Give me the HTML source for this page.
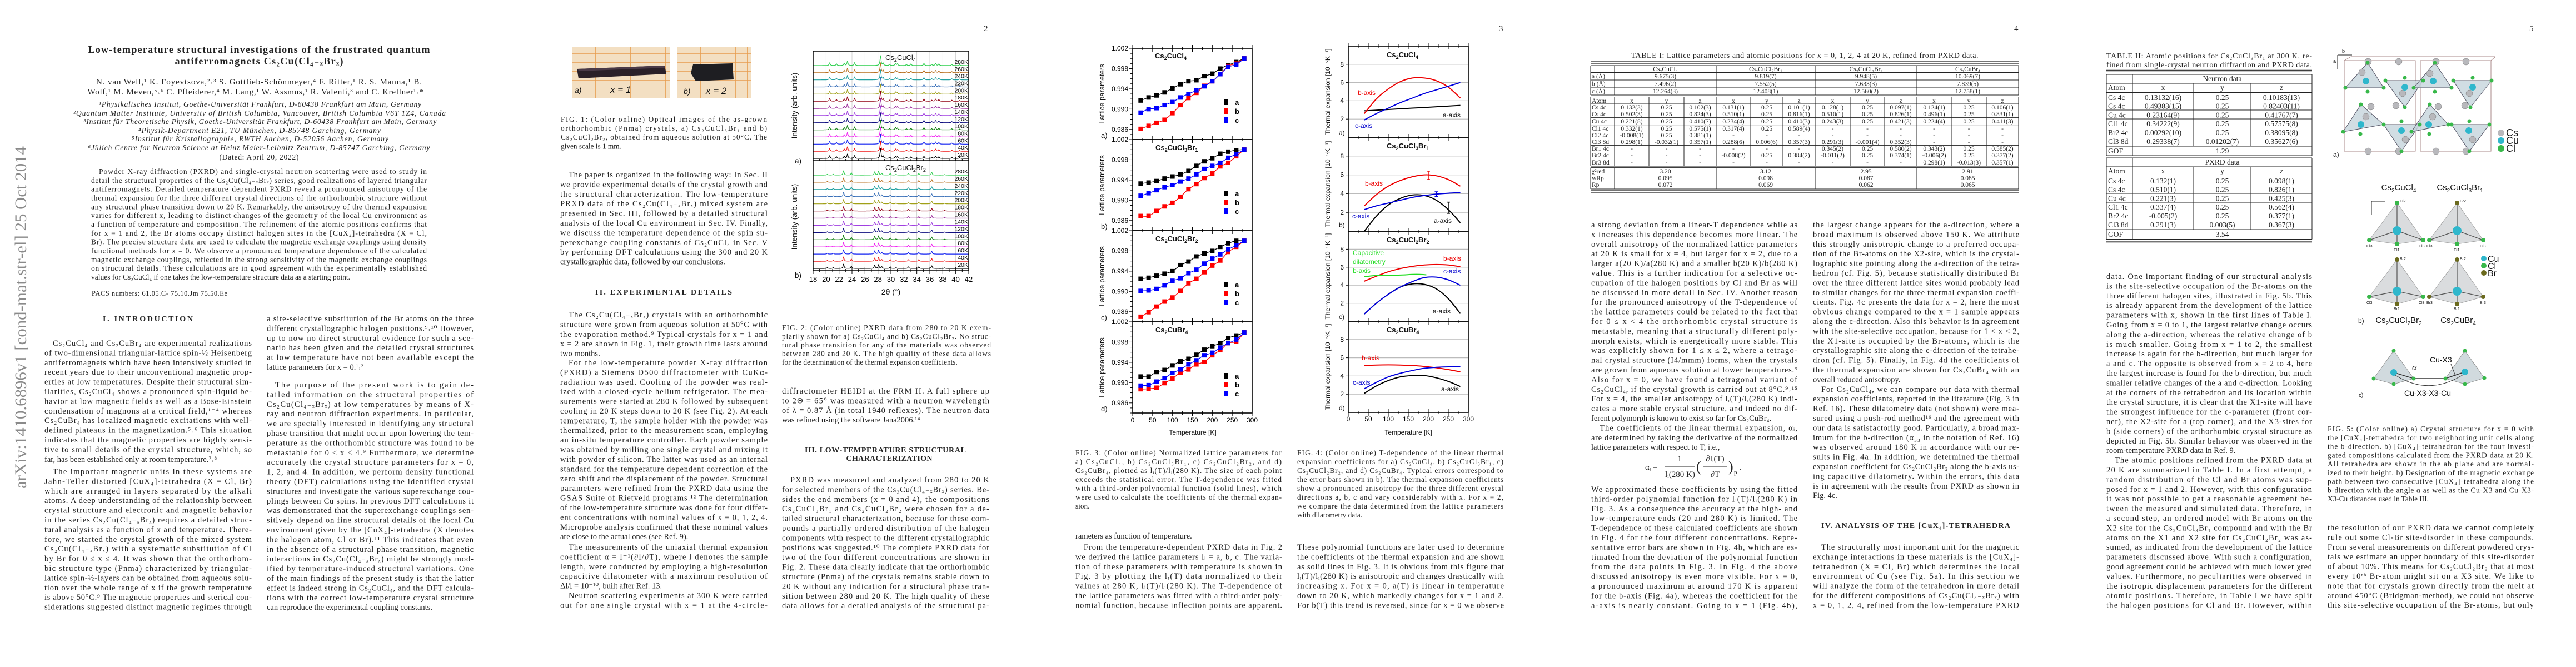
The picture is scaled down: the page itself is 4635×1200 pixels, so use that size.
<!DOCTYPE html>
<html><head><meta charset="utf-8"><title>Low-temperature structural investigations of Cs2Cu(Cl4-xBrx)</title>
<style>
html,body{margin:0;padding:0;background:#fff;}
body{width:4635px;height:1200px;overflow:hidden;position:relative;}
svg{position:absolute;left:0;top:0;}
.serif{font-family:"Liberation Serif","DejaVu Serif",serif;fill:#222;}
.sans{font-family:"Liberation Sans","DejaVu Sans",sans-serif;fill:#111;}
.col text{white-space:pre;}
</style></head>
<body>
<svg id="doc" width="4635" height="1200" viewBox="0 0 4635 1200">
<defs>
<pattern id="mm" width="21" height="16" patternUnits="userSpaceOnUse"><rect width="21" height="16" fill="#f3dfc2"/><path d="M0 0H21M0 0V16" stroke="#e79c4e" stroke-width="1.6"/></pattern>
</defs>

<!-- arXiv sidebar -->
<text class="serif" transform="translate(47,879) rotate(-90)" font-size="30" fill="#8a8a8a" style="fill:#8a8a8a" textLength="616" lengthAdjust="spacingAndGlyphs">arXiv:1410.6896v1  [cond-mat.str-el]  25 Oct 2014</text>

<!-- page numbers -->
<g class="serif" font-size="15">
<text x="1770" y="56">2</text><text x="2697" y="56">3</text><text x="3624" y="56">4</text><text x="4551" y="56">5</text>
</g>

<!-- ================= PAGE 1 ================= -->
<g class="serif" font-weight="bold" font-size="18" text-anchor="middle">
<text x="466" y="95" textLength="615">Low-temperature structural investigations of the frustrated quantum</text>
<text x="466" y="116" textLength="303">antiferromagnets Cs₂Cu(Cl₄₋ₓBrₓ)</text>
</g>
<g class="serif" font-size="15" text-anchor="middle">
<text x="466" y="152" textLength="586">N. van Well,¹ K. Foyevtsova,²˒³ S. Gottlieb-Schönmeyer,⁴ F. Ritter,¹ R. S. Manna,¹ B.</text>
<text x="460" y="170" textLength="605">Wolf,¹ M. Meven,⁵˒⁶ C. Pfleiderer,⁴ M. Lang,¹ W. Assmus,¹ R. Valentí,³ and C. Krellner¹˒*</text>
</g>
<g class="serif" font-size="13.5" font-style="italic" text-anchor="middle">
<text x="468" y="192" textLength="580">¹Physikalisches Institut, Goethe-Universität Frankfurt, D-60438 Frankfurt am Main, Germany</text>
<text x="467" y="208" textLength="670">²Quantum Matter Institute, University of British Columbia, Vancouver, British Columbia V6T 1Z4, Canada</text>
<text x="468" y="223" textLength="635">³Institut für Theoretische Physik, Goethe-Universität Frankfurt, D-60438 Frankfurt am Main, Germany</text>
<text x="467" y="239" textLength="436">⁴Physik-Department E21, TU München, D-85748 Garching, Germany</text>
<text x="468" y="254" textLength="462">⁵Institut für Kristallographie, RWTH Aachen, D-52056 Aachen, Germany</text>
<text x="466" y="270" textLength="615">⁶Jülich Centre for Neutron Science at Heinz Maier-Leibnitz Zentrum, D-85747 Garching, Germany</text>
<text x="466" y="287" font-style="normal" textLength="143">(Dated: April 20, 2022)</text>
</g>

<g class="serif col" data-x="164" data-w="604" data-y="308" data-lh="15.83" data-ind="14" font-size="13.5">
<text class="i">Powder X-ray diffraction (PXRD) and single-crystal neutron scattering were used to study in</text>
<text>detail the structural properties of the Cs₂Cu(Cl₄₋ₓBrₓ) series, good realizations of layered triangular</text>
<text>antiferromagnets. Detailed temperature-dependent PXRD reveal a pronounced anisotropy of the</text>
<text>thermal expansion for the three different crystal directions of the orthorhombic structure without</text>
<text>any structural phase transition down to 20 K. Remarkably, the anisotropy of the thermal expansion</text>
<text>varies for different x, leading to distinct changes of the geometry of the local Cu environment as</text>
<text>a function of temperature and composition. The refinement of the atomic positions confirms that</text>
<text>for x = 1 and 2, the Br atoms occupy distinct halogen sites in the [CuX₄]-tetrahedra (X = Cl,</text>
<text>Br). The precise structure data are used to calculate the magnetic exchange couplings using density</text>
<text>functional methods for x = 0. We observe a pronounced temperature dependence of the calculated</text>
<text>magnetic exchange couplings, reflected in the strong sensitivity of the magnetic exchange couplings</text>
<text>on structural details. These calculations are in good agreement with the experimentally established</text>
<text class="l">values for Cs₂CuCl₄ if one takes the low-temperature structure data as a starting point.</text>
</g>
<text class="serif" x="165" y="532" font-size="12.5" textLength="244">PACS numbers: 61.05.C- 75.10.Jm 75.50.Ee</text>
<text class="serif" x="266" y="578" font-size="14" font-weight="bold" text-anchor="middle" textLength="162">I.   INTRODUCTION</text>

<g class="serif col" data-x="80" data-w="373" data-y="617" font-size="14.5">
<text class="i">Cs₂CuCl₄ and Cs₂CuBr₄ are experimental realizations</text>
<text>of two-dimensional triangular-lattice spin-½ Heisenberg</text>
<text>antiferromagnets which have been intensively studied in</text>
<text>recent years due to their unconventional magnetic prop-</text>
<text>erties at low temperatures. Despite their structural sim-</text>
<text>ilarities, Cs₂CuCl₄ shows a pronounced spin-liquid be-</text>
<text>havior at low magnetic fields as well as a Bose-Einstein</text>
<text>condensation of magnons at a critical field,¹⁻⁴ whereas</text>
<text>Cs₂CuBr₄ has localized magnetic excitations with well-</text>
<text>defined plateaus in the magnetization.⁵˒⁶ This situation</text>
<text>indicates that the magnetic properties are highly sensi-</text>
<text>tive to small details of the crystal structure, which, so</text>
<text class="l">far, has been established only at room temperature.⁷˒⁸</text>
</g>
<g class="serif col" data-x="80" data-w="373" data-y="848" font-size="14.5">
<text class="i">The important magnetic units in these systems are</text>
<text>Jahn-Teller distorted [CuX₄]-tetrahedra (X = Cl, Br)</text>
<text>which are arranged in layers separated by the alkali</text>
<text>atoms. A deep understanding of the relationship between</text>
<text>crystal structure and electronic and magnetic behavior</text>
<text>in the series Cs₂Cu(Cl₄₋ₓBrₓ) requires a detailed struc-</text>
<text>tural analysis as a function of x and temperature. There-</text>
<text>fore, we started the crystal growth of the mixed system</text>
<text>Cs₂Cu(Cl₄₋ₓBrₓ) with a systematic substitution of Cl</text>
<text>by Br for 0 ≤ x ≤ 4. It was shown that the orthorhom-</text>
<text>bic structure type (Pnma) characterized by triangular-</text>
<text>lattice spin-½-layers can be obtained from aqueous solu-</text>
<text>tion over the whole range of x if the growth temperature</text>
<text>is above 50°C.⁹ The magnetic properties and sterical con-</text>
<text>siderations suggested distinct magnetic regimes through</text>
</g>
<g class="serif col" data-x="480" data-w="372" data-y="573" font-size="14.5">
<text>a site-selective substitution of the Br atoms on the three</text>
<text>different crystallographic halogen positions.⁹˒¹⁰ However,</text>
<text>up to now no direct structural evidence for such a sce-</text>
<text>nario has been given and the detailed crystal structures</text>
<text>at low temperature have not been available except the</text>
<text class="l">lattice parameters for x = 0.¹˒²</text>
</g>
<g class="serif col" data-x="480" data-w="372" data-y="692" font-size="14.5">
<text class="i">The purpose of the present work is to gain de-</text>
<text>tailed information on the structural properties of</text>
<text>Cs₂Cu(Cl₄₋ₓBrₓ) at low temperatures by means of X-</text>
<text>ray and neutron diffraction experiments. In particular,</text>
<text>we are specially interested in identifying any structural</text>
<text>phase transition that might occur upon lowering the tem-</text>
<text>perature as the orthorhombic structure was found to be</text>
<text>metastable for 0 ≤ x &lt; 4.⁹ Furthermore, we determine</text>
<text>accurately the crystal structure parameters for x = 0,</text>
<text>1, 2, and 4. In addition, we perform density functional</text>
<text>theory (DFT) calculations using the identified crystal</text>
<text>structures and investigate the various superexchange cou-</text>
<text>plings between Cu spins. In previous DFT calculations it</text>
<text>was demonstrated that the superexchange couplings sen-</text>
<text>sitively depend on fine structural details of the local Cu</text>
<text>environment given by the [CuX₄]-tetrahedra (X denotes</text>
<text>the halogen atom, Cl or Br).¹¹ This indicates that even</text>
<text>in the absence of a structural phase transition, magnetic</text>
<text>interactions in Cs₂Cu(Cl₄₋ₓBrₓ) might be strongly mod-</text>
<text>ified by temperature-induced structural variations. One</text>
<text>of the main findings of the present study is that the latter</text>
<text>effect is indeed strong in Cs₂CuCl₄, and the DFT calcula-</text>
<text>tions with the correct low-temperature crystal structure</text>
<text class="l">can reproduce the experimental coupling constants.</text>
</g>

<!-- ================= PAGE 2 ================= -->
<g>
<rect x="1029" y="84" width="176" height="93" fill="url(#mm)"/>
<polygon points="1038,124 1196,118 1199,133 1041,141" fill="#2a2028"/>
<polygon points="1040,124 1196,118 1197,122 1041,128" fill="#4a3a48"/>
<text class="sans" x="1034" y="167" font-size="14" font-style="italic">a)</text>
<text class="sans" x="1098" y="167" font-size="17" font-style="italic">x = 1</text>
<rect x="1219" y="84" width="133" height="93" fill="url(#mm)"/>
<polygon points="1247,116 1318,114 1320,143 1252,146 1243,132" fill="#1e1e22"/>
<text class="sans" x="1230" y="169" font-size="14" font-style="italic">b)</text>
<text class="sans" x="1270" y="169" font-size="17" font-style="italic">x = 2</text>
</g>
<g class="serif col" data-x="1009" data-w="371" data-y="214" data-lh="16.1" font-size="13.3">
<text>FIG. 1: (Color online) Optical images of the as-grown</text>
<text>orthorhombic (Pnma) crystals, a) Cs₂CuCl₃Br₁ and b)</text>
<text>Cs₂CuCl₂Br₂, obtained from aqueous solution at 50°C. The</text>
<text class="l">given scale is 1 mm.</text>
</g>
<g class="serif col" data-x="1008" data-w="373" data-y="314" font-size="14.5">
<text class="i">The paper is organized in the following way: In Sec. II</text>
<text>we provide experimental details of the crystal growth and</text>
<text>the structural characterization. The low-temperature</text>
<text>PRXD data of the Cs₂Cu(Cl₄₋ₓBrₓ) mixed system are</text>
<text>presented in Sec. III, followed by a detailed structural</text>
<text>analysis of the local Cu environment in Sec. IV. Finally,</text>
<text>we discuss the temperature dependence of the spin su-</text>
<text>perexchange coupling constants of Cs₂CuCl₄ in Sec. V</text>
<text>by performing DFT calculations using the 300 and 20 K</text>
<text class="l">crystallographic data, followed by our conclusions.</text>
</g>
<text class="serif" x="1194" y="530" font-size="14" font-weight="bold" text-anchor="middle" textLength="246">II.   EXPERIMENTAL DETAILS</text>
<g class="serif col" data-x="1008" data-w="373" data-y="566" font-size="14.5">
<text class="i">The Cs₂Cu(Cl₄₋ₓBrₓ) crystals with an orthorhombic</text>
<text>structure were grown from aqueous solution at 50°C with</text>
<text>the evaporation method.⁹ Typical crystals for x = 1 and</text>
<text>x = 2 are shown in Fig. 1, their growth time lasts around</text>
<text class="l">two months.</text>
</g>
<g class="serif col" data-x="1008" data-w="373" data-y="652" font-size="14.5">
<text class="i">For the low-temperature powder X-ray diffraction</text>
<text>(PXRD) a Siemens D500 diffractometer with CuKα-</text>
<text>radiation was used. Cooling of the powder was real-</text>
<text>ized with a closed-cycle helium refrigerator. The mea-</text>
<text>surements were started at 280 K followed by subsequent</text>
<text>cooling in 20 K steps down to 20 K (see Fig. 2). At each</text>
<text>temperature, T, the sample holder with the powder was</text>
<text>thermalized, prior to the measurement scan, employing</text>
<text>an in-situ temperature controller. Each powder sample</text>
<text>was obtained by milling one single crystal and mixing it</text>
<text>with powder of silicon. The latter was used as an internal</text>
<text>standard for the temperature dependent correction of the</text>
<text>zero shift and the displacement of the powder. Structural</text>
<text>parameters were refined from the PXRD data using the</text>
<text>GSAS Suite of Rietveld programs.¹² The determination</text>
<text>of the low-temperature structure was done for four differ-</text>
<text>ent concentrations with nominal values of x = 0, 1, 2, 4.</text>
<text>Microprobe analysis confirmed that these nominal values</text>
<text class="l">are close to the actual ones (see Ref. 9).</text>
</g>
<g class="serif col" data-x="1008" data-w="373" data-y="984" font-size="14.5">
<text class="i">The measurements of the uniaxial thermal expansion</text>
<text>coefficient α = l⁻¹(∂l/∂T), where l denotes the sample</text>
<text>length, were conducted by employing a high-resolution</text>
<text>capacitive dilatometer with a maximum resolution of</text>
<text class="l">Δl/l = 10⁻¹⁰, built after Ref. 13.</text>
</g>
<g class="serif col" data-x="1008" data-w="373" data-y="1071" font-size="14.5">
<text class="i">Neutron scattering experiments at 300 K were carried</text>
<text>out for one single crystal with x = 1 at the 4-circle-</text>
</g>

<!-- Fig 2 labels -->
<g class="sans">
<text x="1434" y="190" font-size="13.5" text-anchor="middle" transform="rotate(-90 1434 190)">Intensity (arb. units)</text>
<text x="1434" y="390" font-size="13.5" text-anchor="middle" transform="rotate(-90 1434 390)">Intensity (arb. units)</text>
<text x="1430" y="294" font-size="13.5">a)</text>
<text x="1430" y="500" font-size="13.5">b)</text>
<text x="1593" y="108" font-size="13">Cs<tspan font-size="9" dy="3">2</tspan><tspan dy="-3">CuCl</tspan><tspan font-size="9" dy="3">4</tspan></text>
<text x="1593" y="306" font-size="13">Cs<tspan font-size="9" dy="3">2</tspan><tspan dy="-3">CuCl</tspan><tspan font-size="9" dy="3">2</tspan><tspan dy="-3">Br</tspan><tspan font-size="9" dy="3">2</tspan></text>
<text x="1603" y="530" font-size="14" text-anchor="middle">2θ (°)</text>
</g>
<g id="fig2"></g>

<g class="serif col" data-x="1407" data-w="376" data-y="589" data-lh="15.5" font-size="13.3">
<text>FIG. 2: (Color online) PXRD data from 280 to 20 K exem-</text>
<text>plarily shown for a) Cs₂CuCl₄ and b) Cs₂CuCl₂Br₂. No struc-</text>
<text>tural phase transition for any of the materials was observed</text>
<text>between 280 and 20 K. The high quality of these data allows</text>
<text class="l">for the determination of the thermal expansion coefficients.</text>
</g>
<g class="serif col" data-x="1407" data-w="373" data-y="703" font-size="14.5">
<text>diffractometer HEIDI at the FRM II. A full sphere up</text>
<text>to 2Θ = 65° was measured with a neutron wavelength</text>
<text>of λ = 0.87 Å (in total 1940 reflexes). The neutron data</text>
<text class="l">was refined using the software Jana2006.¹⁴</text>
</g>
<g class="serif" font-size="14" font-weight="bold" text-anchor="middle">
<text x="1593" y="814" textLength="290">III.   LOW-TEMPERATURE STRUCTURAL</text>
<text x="1600" y="829" textLength="155">CHARACTERIZATION</text>
</g>
<g class="serif col" data-x="1407" data-w="373" data-y="863" font-size="14.5">
<text class="i">PXRD was measured and analyzed from 280 to 20 K</text>
<text>for selected members of the Cs₂Cu(Cl₄₋ₓBrₓ) series. Be-</text>
<text>sides the end members (x = 0 and 4), the compositions</text>
<text>Cs₂CuCl₃Br₁ and Cs₂CuCl₂Br₂ were chosen for a de-</text>
<text>tailed structural characterization, because for these com-</text>
<text>pounds a partially ordered distribution of the halogen</text>
<text>components with respect to the different crystallographic</text>
<text>positions was suggested.¹⁰ The complete PXRD data for</text>
<text>two of the four different concentrations are shown in</text>
<text>Fig. 2. These data clearly indicate that the orthorhombic</text>
<text>structure (Pnma) of the crystals remains stable down to</text>
<text>20 K without any indication for a structural phase tran-</text>
<text>sition between 280 and 20 K. The high quality of these</text>
<text>data allows for a detailed analysis of the structural pa-</text>
</g>

<!-- ================= PAGE 3 ================= -->
<g id="fig3"></g>
<g id="fig4"></g>

<g class="serif col" data-x="1935" data-w="371" data-y="814" data-lh="16" font-size="13.3">
<text>FIG. 3: (Color online) Normalized lattice parameters for</text>
<text>a) Cs₂CuCl₄, b) Cs₂CuCl₃Br₁, c) Cs₂CuCl₂Br₂, and d)</text>
<text>Cs₂CuBr₄, plotted as lᵢ(T)/lᵢ(280 K). The size of each point</text>
<text>exceeds the statistical error. The T-dependence was fitted</text>
<text>with a third-order polynomial function (solid lines), which</text>
<text>were used to calculate the coefficients of the thermal expan-</text>
<text class="l">sion.</text>
</g>
<g class="serif col" data-x="2334" data-w="371" data-y="814" data-lh="16" font-size="13.3">
<text>FIG. 4: (Color online) T-dependence of the linear thermal</text>
<text>expansion coefficients for a) Cs₂CuCl₄, b) Cs₂CuCl₃Br₁, c)</text>
<text>Cs₂CuCl₂Br₂, and d) Cs₂CuBr₄. Typical errors correspond to</text>
<text>the error bars shown in b). The thermal expansion coefficients</text>
<text>show a pronounced anisotropy for the three different crystal</text>
<text>directions a, b, c and vary considerably with x. For x = 2,</text>
<text>we compare the data determined from the lattice parameters</text>
<text class="l">with dilatometry data.</text>
</g>
<g class="serif col" data-x="1935" data-w="371" data-y="964" font-size="14.5">
<text class="l">rameters as function of temperature.</text>
</g>
<g class="serif col" data-x="1935" data-w="372" data-y="984" font-size="14.5">
<text class="i">From the temperature-dependent PXRD data in Fig. 2</text>
<text>we derived the lattice parameters lᵢ = a, b, c. The varia-</text>
<text>tion of these parameters with temperature is shown in</text>
<text>Fig. 3 by plotting the lᵢ(T) data normalized to their</text>
<text>values at 280 K, lᵢ(T)/lᵢ(280 K). The T-dependence of</text>
<text>the lattice parameters was fitted with a third-order poly-</text>
<text>nomial function, because inflection points are apparent.</text>
</g>
<g class="serif col" data-x="2334" data-w="372" data-y="984" font-size="14.5">
<text>These polynomial functions are later used to determine</text>
<text>the coefficients of the thermal expansion and are shown</text>
<text>as solid lines in Fig. 3. It is obvious from this figure that</text>
<text>lᵢ(T)/lᵢ(280 K) is anisotropic and changes drastically with</text>
<text>increasing x. For x = 0, a(T) is linear in temperature</text>
<text>down to 20 K, which markedly changes for x = 1 and 2.</text>
<text>For b(T) this trend is reversed, since for x = 0 we observe</text>
</g>

<!-- ================= PAGE 4 ================= -->
<text class="serif" x="3247" y="104" font-size="14" text-anchor="middle" textLength="625">TABLE I: Lattice parameters and atomic positions for x = 0, 1, 2, 4 at 20 K, refined from PXRD data.</text>
<g id="table1" class="serif" font-size="11.5"></g>

<g class="serif col" data-x="2863" data-w="371" data-y="404" font-size="14.5">
<text>a strong deviation from a linear-T dependence while as</text>
<text>x increases this dependence becomes more linear. The</text>
<text>overall anisotropy of the normalized lattice parameters</text>
<text>at 20 K is small for x = 4, but larger for x = 2, due to a</text>
<text>larger a(20 K)/a(280 K) and a smaller b(20 K)/b(280 K)</text>
<text>value. This is a further indication for a selective oc-</text>
<text>cupation of the halogen positions by Cl and Br as will</text>
<text>be discussed in more detail in Sec. IV. Another reason</text>
<text>for the pronounced anisotropy of the T-dependence of</text>
<text>the lattice parameters could be related to the fact that</text>
<text>for 0 ≤ x &lt; 4 the orthorhombic crystal structure is</text>
<text>metastable, meaning that a structurally different poly-</text>
<text>morph exists, which is energetically more stable. This</text>
<text>was explicitly shown for 1 ≤ x ≤ 2, where a tetrago-</text>
<text>nal crystal structure (I4/mmm) forms, when the crystals</text>
<text>are grown from aqueous solution at lower temperatures.⁹</text>
<text>Also for x = 0, we have found a tetragonal variant of</text>
<text>Cs₂CuCl₄, if the crystal growth is carried out at 8°C.⁹˒¹⁵</text>
<text>For x = 4, the smaller anisotropy of lᵢ(T)/lᵢ(280 K) indi-</text>
<text>cates a more stable crystal structure, and indeed no dif-</text>
<text class="l">ferent polymorph is known to exist so far for Cs₂CuBr₄.</text>
<text class="i">The coefficients of the linear thermal expansion, αᵢ,</text>
<text>are determined by taking the derivative of the normalized</text>
<text class="l">lattice parameters with respect to T, i.e.,</text>
</g>
<g class="serif" font-size="15">
<text x="2960" y="845">αᵢ =</text>
<text x="3022" y="830" text-anchor="middle">1</text>
<line x1="2996" y1="839" x2="3050" y2="839" stroke="#222" stroke-width="1"/>
<text x="3023" y="858" text-anchor="middle">lᵢ(280 K)</text>
<text x="3052" y="848" font-size="26">(</text>
<text x="3086" y="830" text-anchor="middle">∂lᵢ(T)</text>
<line x1="3064" y1="839" x2="3108" y2="839" stroke="#222" stroke-width="1"/>
<text x="3086" y="858" text-anchor="middle">∂T</text>
<text x="3110" y="848" font-size="26">)</text>
<text x="3120" y="853" font-size="11">p</text>
<text x="3130" y="845">.</text>
</g>
<g class="serif col" data-x="2863" data-w="371" data-y="880" font-size="14.5">
<text>We approximated these coefficients by using the fitted</text>
<text>third-order polynomial function for lᵢ(T)/lᵢ(280 K) in</text>
<text>Fig. 3. As a consequence the accuracy at the high- and</text>
<text>low-temperature ends (20 and 280 K) is limited. The</text>
<text>T-dependence of these calculated coefficients are shown</text>
<text>in Fig. 4 for the four different concentrations. Repre-</text>
<text>sentative error bars are shown in Fig. 4b, which are es-</text>
<text>timated from the deviation of the polynomial function</text>
<text>from the data points in Fig. 3. In Fig. 4 the above</text>
<text>discussed anisotropy is even more visible. For x = 0,</text>
<text>a pronounced maximum at around 170 K is apparent</text>
<text>for the b-axis (Fig. 4a), whereas the coefficient for the</text>
<text>a-axis is nearly constant. Going to x = 1 (Fig. 4b),</text>
</g>
<g class="serif col" data-x="3262" data-w="371" data-y="404" font-size="14.5">
<text>the largest change appears for the a-direction, where a</text>
<text>broad maximum is observed above 150 K. We attribute</text>
<text>this strongly anisotropic change to a preferred occupa-</text>
<text>tion of the Br-atoms on the X2-site, which is the crystal-</text>
<text>lographic site pointing along the a-direction of the tetra-</text>
<text>hedron (cf. Fig. 5), because statistically distributed Br</text>
<text>over the three different lattice sites would probably lead</text>
<text>to similar changes for the three thermal expansion coeffi-</text>
<text>cients. Fig. 4c presents the data for x = 2, here the most</text>
<text>obvious change compared to the x = 1 sample appears</text>
<text>along the c-direction. Also this behavior is in agreement</text>
<text>with the site-selective occupation, because for 1 &lt; x &lt; 2,</text>
<text>the X1-site is occupied by the Br-atoms, which is the</text>
<text>crystallographic site along the c-direction of the tetrahe-</text>
<text>dron (cf. Fig. 5). Finally, in Fig. 4d the coefficients of</text>
<text>the thermal expansion are shown for Cs₂CuBr₄ with an</text>
<text class="l">overall reduced anisotropy.</text>
<text class="i">For Cs₂CuCl₄, we can compare our data with thermal</text>
<text>expansion coefficients, reported in the literature (Fig. 3 in</text>
<text>Ref. 16). These dilatometry data (not shown) were mea-</text>
<text>sured using a push-rod method¹⁶ and the agreement with</text>
<text>our data is satisfactorily good. Particularly, a broad max-</text>
<text>imum for the b-direction (α₃₃ in the notation of Ref. 16)</text>
<text>was observed around 180 K in accordance with our re-</text>
<text>sults in Fig. 4a. In addition, we determined the thermal</text>
<text>expansion coefficient for Cs₂CuCl₂Br₂ along the b-axis us-</text>
<text>ing capacitive dilatometry. Within the errors, this data</text>
<text>is in agreement with the results from PXRD as shown in</text>
<text class="l">Fig. 4c.</text>
</g>
<text class="serif" x="3447" y="950" font-size="14" font-weight="bold" text-anchor="middle" textLength="340">IV.   ANALYSIS OF THE [CuX₄]-TETRAHEDRA</text>
<g class="serif col" data-x="3262" data-w="371" data-y="984" font-size="14.5">
<text class="i">The structurally most important unit for the magnetic</text>
<text>exchange interactions in these materials is the [CuX₄]-</text>
<text>tetrahedron (X = Cl, Br) which determines the local</text>
<text>environment of Cu (see Fig. 5a). In this section we</text>
<text>will analyze the form of the tetrahedron in more detail</text>
<text>for the different compositions of Cs₂Cu(Cl₄₋ₓBrₓ) with</text>
<text>x = 0, 1, 2, 4, refined from the low-temperature PXRD</text>
</g>

<!-- ================= PAGE 5 ================= -->
<g class="serif col" data-x="3790" data-w="370" data-y="100" data-lh="16" font-size="14">
<text>TABLE II: Atomic positions for Cs₂CuCl₃Br₁ at 300 K, re-</text>
<text>fined from single-crystal neutron diffraction and PXRD data.</text>
</g>
<g id="table2" class="serif" font-size="13.5"></g>

<g class="serif col" data-x="3790" data-w="370" data-y="497" font-size="14.5">
<text>data. One important finding of our structural analysis</text>
<text>is the site-selective occupation of the Br-atoms on the</text>
<text>three different halogen sites, illustrated in Fig. 5b. This</text>
<text>is already apparent from the development of the lattice</text>
<text>parameters with x, shown in the first lines of Table I.</text>
<text>Going from x = 0 to 1, the largest relative change occurs</text>
<text>along the a-direction, whereas the relative change of b</text>
<text>is much smaller. Going from x = 1 to 2, the smallest</text>
<text>increase is again for the b-direction, but much larger for</text>
<text>a and c. The opposite is observed from x = 2 to 4, here</text>
<text>the largest increase is found for the b-direction, but much</text>
<text>smaller relative changes of the a and c-direction. Looking</text>
<text>at the corners of the tetrahedron and its location within</text>
<text>the crystal structure, it is clear that the X1-site will have</text>
<text>the strongest influence for the c-parameter (front cor-</text>
<text>ner), the X2-site for a (top corner), and the X3-sites for</text>
<text>b (side corners) of the orthorhombic crystal structure as</text>
<text>depicted in Fig. 5b. Similar behavior was observed in the</text>
<text class="l">room-temperature PXRD data in Ref. 9.</text>
<text class="i">The atomic positions refined from the PXRD data at</text>
<text>20 K are summarized in Table I. In a first attempt, a</text>
<text>random distribution of the Cl and Br atoms was sup-</text>
<text>posed for x = 1 and 2. However, with this configuration</text>
<text>it was not possible to get a reasonable agreement be-</text>
<text>tween the measured and simulated data. Therefore, in</text>
<text>a second step, an ordered model with Br atoms on the</text>
<text>X2 site for the Cs₂CuCl₃Br₁ compound and with the Br</text>
<text>atoms on the X1 and X2 site for Cs₂CuCl₂Br₂ was as-</text>
<text>sumed, as indicated from the development of the lattice</text>
<text>parameters discussed above. With such a configuration,</text>
<text>good agreement could be achieved with much lower χred</text>
<text>values. Furthermore, no peculiarities were observed in</text>
<text>the isotropic displacement parameters for the different</text>
<text>atomic positions. Therefore, in Table I we have split</text>
<text>the halogen positions for Cl and Br. However, within</text>
</g>

<!-- Fig 5 drawings -->
<g>
<g fill="none" stroke="#a88" stroke-width="1">
<rect x="4218" y="109" width="128" height="163"/><rect x="4355" y="109" width="127" height="163"/>
<line x1="4218" y1="109" x2="4230" y2="102"/><line x1="4482" y1="109" x2="4490" y2="102"/><line x1="4230" y1="102" x2="4490" y2="102"/>
</g>
<g fill="#c5d4dc" fill-opacity="0.8" stroke="#556" stroke-width="1">
<polygon points="4260,113 4220,158 4289,158"/><polygon points="4292,145 4360,145 4327,193"/>
<polygon points="4381,113 4343,158 4411,158"/><polygon points="4414,145 4483,145 4445,193"/>
<polygon points="4248,188 4216,237 4289,224"/><polygon points="4289,224 4354,224 4321,272"/>
<polygon points="4372,188 4339,237 4405,224"/><polygon points="4411,224 4479,224 4443,272"/>
</g>
<g fill="#b8b8bc" stroke="#777" stroke-width="0.5">
<circle cx="4261" cy="111" r="6"/><circle cx="4316" cy="111" r="6"/><circle cx="4383" cy="111" r="6"/><circle cx="4437" cy="111" r="6"/>
<circle cx="4261" cy="272" r="6"/><circle cx="4316" cy="272" r="6"/><circle cx="4383" cy="272" r="6"/><circle cx="4437" cy="272" r="6"/>
<circle cx="4250" cy="130" r="6"/><circle cx="4323" cy="168" r="6"/><circle cx="4372" cy="132" r="6"/><circle cx="4443" cy="168" r="6"/>
<circle cx="4266" cy="192" r="6"/><circle cx="4311" cy="190" r="6"/><circle cx="4387" cy="192" r="6"/><circle cx="4435" cy="190" r="6"/>
<circle cx="4257" cy="210" r="6"/><circle cx="4328" cy="251" r="6"/><circle cx="4377" cy="210" r="6"/><circle cx="4449" cy="251" r="6"/>
</g>
<g fill="#2fb7cc">
<circle cx="4257" cy="146" r="6"/><circle cx="4327" cy="157" r="6"/><circle cx="4378" cy="146" r="6"/><circle cx="4449" cy="157" r="6"/>
<circle cx="4248" cy="224" r="6"/><circle cx="4321" cy="235" r="6"/><circle cx="4370" cy="224" r="6"/><circle cx="4442" cy="235" r="6"/>
</g>
<g fill="#38b84a">
<circle cx="4260" cy="113" r="3.5"/><circle cx="4220" cy="158" r="3.5"/><circle cx="4289" cy="158" r="3.5"/><circle cx="4260" cy="165" r="3.5"/>
<circle cx="4292" cy="145" r="3.5"/><circle cx="4360" cy="145" r="3.5"/><circle cx="4327" cy="193" r="3.5"/><circle cx="4327" cy="140" r="3.5"/>
<circle cx="4381" cy="113" r="3.5"/><circle cx="4343" cy="158" r="3.5"/><circle cx="4411" cy="158" r="3.5"/><circle cx="4381" cy="165" r="3.5"/>
<circle cx="4414" cy="145" r="3.5"/><circle cx="4483" cy="145" r="3.5"/><circle cx="4445" cy="193" r="3.5"/><circle cx="4449" cy="140" r="3.5"/>
<circle cx="4248" cy="188" r="3.5"/><circle cx="4216" cy="237" r="3.5"/><circle cx="4289" cy="224" r="3.5"/><circle cx="4247" cy="241" r="3.5"/>
<circle cx="4354" cy="224" r="3.5"/><circle cx="4321" cy="272" r="3.5"/><circle cx="4321" cy="218" r="3.5"/>
<circle cx="4372" cy="188" r="3.5"/><circle cx="4339" cy="237" r="3.5"/><circle cx="4405" cy="224" r="3.5"/><circle cx="4371" cy="241" r="3.5"/>
<circle cx="4411" cy="224" r="3.5"/><circle cx="4479" cy="224" r="3.5"/><circle cx="4443" cy="272" r="3.5"/><circle cx="4443" cy="218" r="3.5"/>
</g>
<g stroke="#222" stroke-width="1"><line x1="4206" y1="99" x2="4232" y2="99"/><line x1="4206" y1="99" x2="4206" y2="125"/></g>
<text class="sans" x="4214" y="95" font-size="9">b</text><text class="sans" x="4198" y="113" font-size="9">a</text>
<text class="sans" x="4198" y="282" font-size="12">a)</text>
<circle cx="4500" cy="239" r="6" fill="#b8b8bc"/><text class="sans" x="4509" y="245" font-size="18">Cs</text>
<circle cx="4500" cy="253" r="6" fill="#2fb7cc"/><text class="sans" x="4509" y="259" font-size="18">Cu</text>
<circle cx="4500" cy="267" r="6" fill="#38b84a"/><text class="sans" x="4509" y="273" font-size="18">Cl</text>
</g>

<g>
<g class="sans" font-size="15" text-anchor="middle">
<text x="4316" y="342">Cs<tspan font-size="10" dy="4">2</tspan><tspan dy="-4">CuCl</tspan><tspan font-size="10" dy="4">4</tspan></text>
<text x="4426" y="342">Cs<tspan font-size="10" dy="4">2</tspan><tspan dy="-4">CuCl</tspan><tspan font-size="10" dy="4">3</tspan><tspan dy="-4">Br</tspan><tspan font-size="10" dy="4">1</tspan></text>
<text x="4316" y="581">Cs<tspan font-size="10" dy="4">2</tspan><tspan dy="-4">CuCl</tspan><tspan font-size="10" dy="4">2</tspan><tspan dy="-4">Br</tspan><tspan font-size="10" dy="4">2</tspan></text>
<text x="4423" y="581">Cs<tspan font-size="10" dy="4">2</tspan><tspan dy="-4">CuBr</tspan><tspan font-size="10" dy="4">4</tspan></text>
</g>
<text class="sans" x="4243" y="581" font-size="12">b)</text>
<g stroke="#222" stroke-width="1"><line x1="4267" y1="362" x2="4292" y2="362"/><line x1="4267" y1="362" x2="4267" y2="386"/></g>
<g fill="#d4d6d8" fill-opacity="0.85" stroke="#999" stroke-width="0.8">
<polygon points="4313,365 4263,432 4313,439 4360,432"/>
<polygon points="4421,365 4371,432 4421,439 4468,432"/>
<polygon points="4313,467 4263,534 4313,547 4360,534"/>
<polygon points="4421,467 4371,534 4421,547 4468,534"/>
</g>
<g stroke="#555" stroke-width="1.2">
<path d="M4313 415L4263 432M4313 415L4360 432M4313 415L4313 439M4313 415L4313 365"/>
<path d="M4421 415L4371 432M4421 415L4468 432M4421 415L4421 439M4421 415L4421 365"/>
<path d="M4313 524L4263 534M4313 524L4360 534M4313 524L4313 547M4313 524L4313 467"/>
<path d="M4421 524L4371 534M4421 524L4468 534M4421 524L4421 547M4421 524L4421 467"/>
</g>
<g fill="#2fb7cc"><circle cx="4313" cy="415" r="8"/><circle cx="4421" cy="415" r="8"/><circle cx="4313" cy="524" r="8"/><circle cx="4421" cy="524" r="8"/></g>
<g fill="#38b84a">
<circle cx="4313" cy="365" r="4"/><circle cx="4263" cy="432" r="4"/><circle cx="4360" cy="432" r="4"/><circle cx="4313" cy="439" r="4"/>
<circle cx="4371" cy="432" r="4"/><circle cx="4468" cy="432" r="4"/><circle cx="4421" cy="439" r="4"/>
<circle cx="4263" cy="534" r="4"/><circle cx="4360" cy="534" r="4"/>
</g>
<g fill="#6b6a1e">
<circle cx="4421" cy="365" r="4"/><circle cx="4313" cy="467" r="4"/><circle cx="4313" cy="547" r="4"/>
<circle cx="4421" cy="467" r="4"/><circle cx="4371" cy="534" r="4"/><circle cx="4468" cy="534" r="4"/><circle cx="4421" cy="547" r="4"/>
</g>
<g class="sans" font-size="7" fill="#333">
<text x="4318" y="364">Cl2</text><text x="4426" y="364">Br2</text><text x="4258" y="445">Cl3</text><text x="4307" y="452">Cl1</text><text x="4352" y="445">Cl3</text>
<text x="4366" y="445">Cl3</text><text x="4415" y="452">Cl1</text><text x="4462" y="445">Cl3</text>
<text x="4318" y="468">Br2</text><text x="4426" y="468">Br2</text><text x="4258" y="547">Cl3</text><text x="4307" y="558">Br1</text><text x="4352" y="547">Cl3</text>
<text x="4366" y="547">Br3</text><text x="4415" y="558">Br1</text><text x="4462" y="547">Br3</text>
</g>
<circle cx="4469" cy="465" r="5" fill="#2fb7cc"/><text class="sans" x="4476" y="471" font-size="16">Cu</text>
<circle cx="4469" cy="478" r="5" fill="#38b84a"/><text class="sans" x="4476" y="484" font-size="16">Cl</text>
<circle cx="4469" cy="491" r="5" fill="#6b6a1e"/><text class="sans" x="4476" y="497" font-size="16">Br</text>
</g>

<g>
<g fill="#c9d3d8" fill-opacity="0.85" stroke="#888" stroke-width="0.8">
<polygon points="4307,631 4271,681 4307,691 4343,681"/>
<polygon points="4435,631 4400,681 4435,691 4470,680"/>
</g>
<g stroke="#333" stroke-width="1.5" fill="none">
<path d="M4307 670L4343 681L4400 681L4435 669"/>
<path d="M4307 673 Q4370 715 4435 672" stroke-width="1"/>
<line x1="4410" y1="655" x2="4418" y2="676" stroke-width="1"/>
</g>
<g fill="#2fb7cc"><circle cx="4307" cy="670" r="6"/><circle cx="4435" cy="669" r="6"/></g>
<g fill="#38b84a">
<circle cx="4307" cy="631" r="3.5"/><circle cx="4271" cy="681" r="3.5"/><circle cx="4343" cy="681" r="3.5"/><circle cx="4307" cy="691" r="3.5"/>
<circle cx="4435" cy="631" r="3.5"/><circle cx="4400" cy="681" r="3.5"/><circle cx="4470" cy="680" r="3.5"/><circle cx="4435" cy="691" r="3.5"/>
</g>
<text class="sans" x="4372" y="652" font-size="14">Cu-X3</text>
<text class="serif" x="4340" y="666" font-size="16" font-style="italic">α</text>
<text class="sans" x="4326" y="712" font-size="14">Cu-X3-X3-Cu</text>
<text class="sans" x="4244" y="714" font-size="10">c)</text>
</g>

<g class="serif col" data-x="4188" data-w="371" data-y="771" data-lh="15.75" font-size="13.3">
<text>FIG. 5: (Color online) a) Crystal structure for x = 0 with</text>
<text>the [CuX₄]-tetrahedra for two neighboring unit cells along</text>
<text>the b-direction. b) [CuX₄]-tetrahedron for the four investi-</text>
<text>gated compositions calculated from the PXRD data at 20 K.</text>
<text>All tetrahedra are shown in the ab plane and are normal-</text>
<text>ized to their height. b) Designation of the magnetic exchange</text>
<text>path between two consecutive [CuX₄]-tetrahedra along the</text>
<text>b-direction with the angle α as well as the Cu-X3 and Cu-X3-</text>
<text class="l">X3-Cu distances used in Table III.</text>
</g>
<g class="serif col" data-x="4188" data-w="371" data-y="949" font-size="14.5">
<text>the resolution of our PXRD data we cannot completely</text>
<text>rule out some Cl-Br site-disorder in these compounds.</text>
<text>From several measurements on different powdered crys-</text>
<text>tals we estimate an upper boundary of this site-disorder</text>
<text>of about 10%. This means for Cs₂CuCl₂Br₂ that at most</text>
<text>every 10ᵗʰ Br-atom might sit on a X3 site. We like to</text>
<text>note that for crystals grown directly from the melt at</text>
<text>around 450°C (Bridgman-method), we could not observe</text>
<text>this site-selective occupation of the Br-atoms, but only</text>
</g>

<!-- Fig 3 / Fig 4 static labels -->
<g class="sans" font-size="13">
<text x="2078" y="105" font-weight="bold">Cs<tspan font-size="9" dy="3">2</tspan><tspan dy="-3">CuCl</tspan><tspan font-size="9" dy="3">4</tspan></text>
<text x="2079" y="270" font-weight="bold">Cs<tspan font-size="9" dy="3">2</tspan><tspan dy="-3">CuCl</tspan><tspan font-size="9" dy="3">3</tspan><tspan dy="-3">Br</tspan><tspan font-size="9" dy="3">1</tspan></text>
<text x="2079" y="434" font-weight="bold">Cs<tspan font-size="9" dy="3">2</tspan><tspan dy="-3">CuCl</tspan><tspan font-size="9" dy="3">2</tspan><tspan dy="-3">Br</tspan><tspan font-size="9" dy="3">2</tspan></text>
<text x="2079" y="598" font-weight="bold">Cs<tspan font-size="9" dy="3">2</tspan><tspan dy="-3">CuBr</tspan><tspan font-size="9" dy="3">4</tspan></text>
<text x="1987" y="169" text-anchor="middle" transform="rotate(-90 1987 169)">Lattice parameters</text>
<text x="1987" y="333" text-anchor="middle" transform="rotate(-90 1987 333)">Lattice parameters</text>
<text x="1987" y="497" text-anchor="middle" transform="rotate(-90 1987 497)">Lattice parameters</text>
<text x="1987" y="661" text-anchor="middle" transform="rotate(-90 1987 661)">Lattice parameters</text>
<text x="1981" y="248">a)</text><text x="1981" y="412">b)</text><text x="1981" y="576">c)</text><text x="1981" y="740">d)</text>
<text x="2146" y="782" text-anchor="middle" font-size="12">Temperature [K]</text>
</g>
<g class="sans" font-size="12">
<text x="2495" y="103" font-weight="bold" font-size="13">Cs<tspan font-size="9" dy="3">2</tspan><tspan dy="-3">CuCl</tspan><tspan font-size="9" dy="3">4</tspan></text>
<text x="2495" y="267" font-weight="bold" font-size="13">Cs<tspan font-size="9" dy="3">2</tspan><tspan dy="-3">CuCl</tspan><tspan font-size="9" dy="3">3</tspan><tspan dy="-3">Br</tspan><tspan font-size="9" dy="3">1</tspan></text>
<text x="2495" y="436" font-weight="bold" font-size="13">Cs<tspan font-size="9" dy="3">2</tspan><tspan dy="-3">CuCl</tspan><tspan font-size="9" dy="3">2</tspan><tspan dy="-3">Br</tspan><tspan font-size="9" dy="3">2</tspan></text>
<text x="2495" y="598" font-weight="bold" font-size="13">Cs<tspan font-size="9" dy="3">2</tspan><tspan dy="-3">CuBr</tspan><tspan font-size="9" dy="3">4</tspan></text>
<text x="2393" y="165" text-anchor="middle" transform="rotate(-90 2393 165)">Thermal expansion [10⁻⁵K⁻¹]</text>
<text x="2393" y="331" text-anchor="middle" transform="rotate(-90 2393 331)">Thermal expansion [10⁻⁵K⁻¹]</text>
<text x="2393" y="497" text-anchor="middle" transform="rotate(-90 2393 497)">Thermal expansion [10⁻⁵K⁻¹]</text>
<text x="2393" y="660" text-anchor="middle" transform="rotate(-90 2393 660)">Thermal expansion [10⁻⁵K⁻¹]</text>
<text x="2409" y="243">a)</text><text x="2409" y="409">b)</text><text x="2409" y="574">c)</text><text x="2409" y="738">d)</text>
<text fill="#e00" style="fill:#e00" x="2443" y="171">b-axis</text>
<text fill="#00c" style="fill:#00c" x="2438" y="230">c-axis</text>
<text x="2596" y="211">a-axis</text>
<text fill="#e00" style="fill:#e00" x="2456" y="334">b-axis</text>
<text fill="#00c" style="fill:#00c" x="2433" y="393">c-axis</text>
<text x="2580" y="401">a-axis</text>
<text fill="#2d2" style="fill:#2d2" x="2434" y="459">Capacitive</text>
<text fill="#2d2" style="fill:#2d2" x="2434" y="475">dilatometry</text>
<text fill="#2d2" style="fill:#2d2" x="2434" y="491">b-axis</text>
<text fill="#e00" style="fill:#e00" x="2597" y="469">b-axis</text>
<text fill="#00c" style="fill:#00c" x="2597" y="492">c-axis</text>
<text x="2578" y="564">a-axis</text>
<text fill="#e00" style="fill:#e00" x="2450" y="648">b-axis</text>
<text fill="#00c" style="fill:#00c" x="2434" y="692">c-axis</text>
<text x="2593" y="704">a-axis</text>
<text x="2534" y="782" text-anchor="middle">Temperature [K]</text>
</g>
</svg>

<script>
/* ---------- positioning of text lines (layout only) ---------- */
document.querySelectorAll('g.col').forEach(function(g){
  var x=+g.dataset.x, w=+g.dataset.w, y0=+g.dataset.y, lh=+(g.dataset.lh||17.4), ind=+(g.dataset.ind||15);
  var i=0;
  Array.prototype.forEach.call(g.children,function(t){
    if(t.tagName.toLowerCase()!=='text')return;
    var d=t.classList.contains('i')?ind:0;
    t.setAttribute('x',x+d);
    t.setAttribute('y',(y0+i*lh+5).toFixed(1));
    if(!t.classList.contains('l')){t.setAttribute('textLength',w-d);t.setAttribute('lengthAdjust','spacing');}
    i++;
  });
});

var NS='http://www.w3.org/2000/svg';
function mk(tag,parent){var e=document.createElementNS(NS,tag);parent.appendChild(e);return e;}
function at(e,o){for(var k in o)e.setAttribute(k,o[k]);return e;}
function smooth(p){var d='M'+p[0][0].toFixed(1)+' '+p[0][1].toFixed(1);
  for(var i=0;i<p.length-1;i++){var p0=p[i-1]||p[i],p1=p[i],p2=p[i+1],p3=p[i+2]||p2;
    d+='C'+(p1[0]+(p2[0]-p0[0])/6).toFixed(1)+' '+(p1[1]+(p2[1]-p0[1])/6).toFixed(1)+' '+(p2[0]-(p3[0]-p1[0])/6).toFixed(1)+' '+(p2[1]-(p3[1]-p1[1])/6).toFixed(1)+' '+p2[0].toFixed(1)+' '+p2[1].toFixed(1);}
  return d;}

/* ================= FIG 2 DATA ================= */
var temps2=[280,260,240,220,200,180,160,140,120,100,80,60,40,20];
var tempLabels2=['280K','260K','240K','220K','200K','180K','160K','140K','120K','100K','80K','60K','40K','20K'];
var peaksA_pos=[20.55,21.6,22.8,23.3,24.4,28.4,28.8,29.8,30.7,31.0,32.4,33.1,35.1,36.3,36.9,37.4,39.4,40.6];
var peaksA_h=[5,3,4,8,5,18,4,2,4,3,2,3,4,2,4,3,2,1.5];
var peaksB_pos=[20.2,21.1,22.7,23.9,27.5,28.1,28.6,29.9,30.8,32.7,34.3,36.3,38.3];
var peaksB_h=[1.5,1.5,8,4,6,7,3,3,1.5,3,3,5,1];
var ticks2=[18,20,22,24,26,28,30,32,34,36,38,40,42];
var colors2=['#2fcf4f','#b87020','#20a0a0','#3a70b8','#a0a018','#900010','#9a2a9a','#a040e0','#101080','#108010','#f020f0','#1020f0','#f01818','#000000'];

(function(){
  var g=document.getElementById('fig2');
  var L=1463,R=1743,T=92,M=289,B=487;
  function X(a){return L+(a-ticks2[0])/(ticks2[ticks2.length-1]-ticks2[0])*(R-L);}
  ticks2.forEach(function(a){var ln=mk('line',g);at(ln,{x1:X(a),x2:X(a),y1:T,y2:B,stroke:'#c8c8c8','stroke-width':0.8});
    });
  function panel(pos,hts,top,bot,name){
    var sp=(bot-top-30)/(temps2.length-1);
    temps2.forEach(function(t,i){
      var base=top+26+i*sp, d='';
      for(var a=ticks2[0];a<=ticks2[ticks2.length-1]+0.001;a+=0.04){
        var y=0;for(var k=0;k<pos.length;k++){var dx=(a-pos[k])/0.09;y+=hts[k]/(1+dx*dx);}
        d+=(d?'L':'M')+X(a).toFixed(1)+' '+(base-y).toFixed(1);}
      var p=mk('path',g);at(p,{d:d,fill:'none',stroke:colors2[i],'stroke-width':1.2});
      
      
      var tx=mk('text',g);at(tx,{x:R-1,y:base-3,'text-anchor':'end','font-size':10.5,'font-family':'Liberation Sans, sans-serif'});
      tx.textContent=tempLabels2[i];
      
      
    });
  }
  panel(peaksA_pos,peaksA_h,T,M,'fig2a');
  panel(peaksB_pos,peaksB_h,M,B,'fig2b');
  var r=mk('rect',g);at(r,{x:L,y:T,width:R-L,height:B-T,fill:'none',stroke:'#000','stroke-width':1.5});
  
  var ml=mk('line',g);at(ml,{x1:L,x2:R,y1:M,y2:M,stroke:'#000','stroke-width':1.5});
  
  for(var a=ticks2[0];a<=ticks2[ticks2.length-1];a++){
    var major=(a%2===0);
    [M,B].forEach(function(yy){var tk=mk('line',g);at(tk,{x1:X(a),x2:X(a),y1:yy-(major?6:3),y2:yy+(yy===B?(major?6:3):0),stroke:'#000','stroke-width':1});
      });
  }
  ticks2.forEach(function(a){var tx=mk('text',g);at(tx,{x:X(a),y:507,'text-anchor':'middle','font-size':13,'font-family':'Liberation Sans, sans-serif'});
    tx.textContent=String(a);});
})();

/* ================= FIG 3 DATA ================= */
var temps3=[20,40,60,80,100,120,140,160,180,200,220,240,260,280];
var x0_a=[0.9917,0.9923,0.9927,0.9933,0.9941,0.9949,0.9955,0.9957,0.9965,0.9970,0.9980,0.9987,0.9993,1.0000];
var x0_b=[0.9861,0.9867,0.9873,0.9879,0.9892,0.9908,0.9922,0.9932,0.9946,0.9955,0.9969,0.9985,0.9990,1.0000];
var x0_c=[0.9893,0.9900,0.9902,0.9908,0.9914,0.9923,0.9930,0.9937,0.9945,0.9955,0.9969,0.9983,0.9988,1.0000];
var x1_a=[0.9933,0.9935,0.9938,0.9943,0.9947,0.9951,0.9958,0.9968,0.9977,0.9983,0.9992,0.9996,0.9999,1.0000];
var x1_b=[0.9869,0.9869,0.9879,0.9888,0.9895,0.9907,0.9922,0.9932,0.9944,0.9953,0.9967,0.9974,0.9987,1.0000];
var x1_c=[0.9909,0.9914,0.9920,0.9926,0.9930,0.9937,0.9943,0.9951,0.9962,0.9968,0.9974,0.9984,0.9991,1.0000];
var x2_a=[0.9925,0.9927,0.9931,0.9935,0.9940,0.9952,0.9959,0.9969,0.9975,0.9980,0.9988,0.9995,1.0000,1.0000];
var x2_b=[0.9850,0.9859,0.9870,0.9880,0.9888,0.9901,0.9916,0.9925,0.9938,0.9951,0.9961,0.9978,0.9988,1.0000];
var x2_c=[0.9901,0.9902,0.9905,0.9912,0.9921,0.9926,0.9936,0.9943,0.9955,0.9965,0.9973,0.9983,0.9991,1.0000];
var x4_a=[0.9912,0.9912,0.9921,0.9925,0.9934,0.9942,0.9947,0.9955,0.9965,0.9972,0.9978,0.9988,0.9993,0.9999];
var x4_b=[0.9887,0.9888,0.9890,0.9899,0.9908,0.9920,0.9926,0.9936,0.9941,0.9954,0.9964,0.9978,0.9981,0.9999];
var x4_c=[0.9894,0.9895,0.9902,0.9909,0.9919,0.9926,0.9936,0.9944,0.9954,0.9959,0.9969,0.9978,0.9985,0.9999];
var ticks3y=[0.986,0.990,0.994,0.998,1.002];
var ticks3x=[0,50,100,150,200,250,300];
var legend3=['a','b','c'];

(function(){
  var g=document.getElementById('fig3');
  var L=2038,R=2253,H=164,tops=[87,251,415,579],ymin=0.984,ymax=1.002;
  var series=[[x0_a,x0_b,x0_c],[x1_a,x1_b,x1_c],[x2_a,x2_b,x2_c],[x4_a,x4_b,x4_c]];
  var cols=['#000','#f00','#00f'];
  function X(t){return L+(t-ticks3x[0])/(ticks3x[ticks3x.length-1]-ticks3x[0])*(R-L);}
  series.forEach(function(ser,p){
    var top=tops[p];
    function Y(v){return top+(ymax-v)/(ymax-ymin)*H;}
    var r=mk('rect',g);at(r,{x:L,y:top,width:R-L,height:H,fill:'none',stroke:'#000','stroke-width':1.6});
    
    for(var k=0;k<=18;k++){var v=ymin+k*0.001,maj=Math.abs(((v-0.986)/0.004)-Math.round((v-0.986)/0.004))<1e-6;
      var tk=mk('line',g);at(tk,{x1:L-(maj?7:4),x2:L,y1:Y(v),y2:Y(v),stroke:'#000','stroke-width':1});
      }
    ticks3y.forEach(function(v){var tx=mk('text',g);at(tx,{x:L-8,y:Y(v)+4,'text-anchor':'end','font-size':12,'font-family':'Liberation Sans, sans-serif'});
      tx.textContent=v.toFixed(3);});
    for(var t=0;t<=300;t+=25){var maj=(t%50===0);var tk2=mk('line',g);at(tk2,{x1:X(t),x2:X(t),y1:top-(maj?6:3),y2:top+(maj?6:3),stroke:'#000','stroke-width':1});
      }
    ser.forEach(function(arr,s){
      var pts=arr.map(function(v,i){return [X(temps3[i]),Y(v)];});
      var ln=mk('path',g);at(ln,{d:smooth(pts),fill:'none',stroke:cols[s],'stroke-width':1.3});
      
      pts.forEach(function(q){var sq=mk('rect',g);at(sq,{x:q[0]-4,y:q[1]-4,width:8,height:8,fill:cols[s]});
        });
      var lg=mk('rect',g);at(lg,{x:2202,y:top+92+s*16,width:8,height:10,fill:cols[s]});
      
      var lt=mk('text',g);at(lt,{x:2222,y:top+102+s*16,'font-size':13,'font-weight':'bold','font-family':'Liberation Sans, sans-serif'});
      lt.textContent=legend3[s];
    });
  });
  var bot=tops[3]+H;
  for(var t=0;t<=300;t+=25){var maj=(t%50===0);var tk=mk('line',g);at(tk,{x1:X(t),x2:X(t),y1:bot-(maj?6:3),y2:bot+(maj?6:3),stroke:'#000','stroke-width':1});
    }
  ticks3x.forEach(function(t){var tx=mk('text',g);at(tx,{x:X(t),y:760,'text-anchor':'middle','font-size':12,'font-family':'Liberation Sans, sans-serif'});
    tx.textContent=String(t);});
})();

/* ================= FIG 4 DATA ================= */
var temps4=[40,70,100,130,160,190,220,250,280];
var te0_a=[2.9,2.97,3.05,3.12,3.2,3.27,3.35,3.42,3.5];
var te0_b=[2.6,4.2,5.3,6.1,6.5,6.5,6.2,5.5,4.3];
var te0_c=[1.9,2.6,3.2,3.8,4.3,4.8,5.2,5.6,6.0];
var te1_a=[0.0,1.6,2.8,3.5,3.85,3.8,3.3,2.3,0.9];
var te1_b=[2.7,3.9,4.8,5.4,5.8,6.0,5.9,5.5,4.8];
var te1_c=[2.3,2.7,3.0,3.3,3.6,3.8,3.95,4.05,4.1];
var te2_a=[0.8,2.0,3.0,3.8,4.15,4.1,3.6,2.5,0.85];
var te2_b=[4.45,5.0,5.5,5.85,6.1,6.25,6.3,6.25,6.05];
var te2_c=[0.8,2.0,3.0,3.8,4.4,4.85,4.9,4.6,4.0];
var te4_a=[2.1,2.9,3.5,3.9,4.05,4.05,3.8,3.4,2.85];
var te4_b=[5.15,5.2,5.22,5.2,5.15,5.05,4.9,4.7,4.45];
var te4_c=[2.6,3.3,3.9,4.3,4.6,4.85,4.95,5.0,5.0];
var dilT=[40,60,80,100,120,140,160,180,195];
var dilB=[4.95,5.05,5.1,5.1,5.12,5.15,5.2,5.2,5.15];
var errT=[200,220,250];
var errV=[5.95,3.95,2.5];
var errE=[0.45,0.25,0.6];
var ticks4y=[2,4,6,8];
var ticks4x=[0,50,100,150,200,250,300];

(function(){
  var g=document.getElementById('fig4');
  var L=2426,R=2642,tops=[83,247,416,578],bots=[247,416,578,742],ymax=10;
  var sets=[[te0_a,te0_b,te0_c],[te1_a,te1_b,te1_c],[te2_a,te2_b,te2_c],[te4_a,te4_b,te4_c]];
  var cols=['#000','#e00','#00d'],nm=['a-axis','b-axis','c-axis'];
  function X(t){return L+(t-ticks4x[0])/(ticks4x[ticks4x.length-1]-ticks4x[0])*(R-L);}
  sets.forEach(function(ser,p){
    var top=tops[p],bot=bots[p];
    function Y(v){return top+(ymax-v)*(bot-top)/ymax;}
    ticks4y.forEach(function(v){
      var gl=mk('line',g);at(gl,{x1:L,x2:R,y1:Y(v),y2:Y(v),stroke:'#bbb','stroke-width':1.2});
      
      var tk=mk('line',g);at(tk,{x1:L-5,x2:L,y1:Y(v),y2:Y(v),stroke:'#000','stroke-width':1});
      
      var tx=mk('text',g);at(tx,{x:L-8,y:Y(v)+4,'text-anchor':'end','font-size':12,'font-family':'Liberation Sans, sans-serif'});
      tx.textContent=String(v);
    });
    var r=mk('rect',g);at(r,{x:L,y:top,width:R-L,height:bot-top,fill:'none',stroke:'#000','stroke-width':1.6});
    
    for(var t=0;t<=300;t+=25){var maj=(t%50===0);var tk2=mk('line',g);at(tk2,{x1:X(t),x2:X(t),y1:top-(maj?6:3),y2:top+(maj?6:3),stroke:'#000','stroke-width':1});
      }
    ser.forEach(function(arr,s){
      var pts=arr.map(function(v,i){return [X(temps4[i]),Y(v)];});
      var c=mk('path',g);at(c,{d:smooth(pts),fill:'none',stroke:cols[s],'stroke-width':2});
      
    });
    if(p===1){errT.forEach(function(t,i){
      var x=X(t),y1=Y(errV[i]+errE[i]),y2=Y(errV[i]-errE[i]),col=cols[[1,2,0][i]];
      var e=mk('path',g);at(e,{d:'M'+x+' '+y1+'V'+y2+'M'+(x-3)+' '+y1+'H'+(x+3)+'M'+(x-3)+' '+y2+'H'+(x+3),stroke:col,'stroke-width':1.5,fill:'none'});
      });}
    if(p===2){var pts=dilT.map(function(t,i){return [X(t),Y(dilB[i])];});
      var gr=mk('path',g);at(gr,{d:smooth(pts),fill:'none',stroke:'#22dd22','stroke-width':2});
      }
  });
  var bot=bots[3];
  for(var t=0;t<=300;t+=25){var maj=(t%50===0);var tk=mk('line',g);at(tk,{x1:X(t),x2:X(t),y1:bot-(maj?6:3),y2:bot+(maj?6:3),stroke:'#000','stroke-width':1});
    }
  ticks4x.forEach(function(t){var tx=mk('text',g);at(tx,{x:X(t),y:758,'text-anchor':'middle','font-size':12,'font-family':'Liberation Sans, sans-serif'});
    tx.textContent=String(t);});
})();

/* ================= TABLE I ================= */
var t1Groups=[['','Cs₂CuCl₄','Cs₂CuCl₃Br₁','Cs₂CuCl₂Br₂','Cs₂CuBr₄'],
 ['a (Å)','9.675(3)','9.819(7)','9.948(5)','10.069(7)'],
 ['b (Å)','7.496(2)','7.552(5)','7.633(3)','7.839(5)'],
 ['c (Å)','12.264(3)','12.408(1)','12.560(2)','12.758(1)']];
var t1Atoms=[['Atom','x','y','z','x','y','z','x','y','z','x','y','z'],
 ['Cs 4c','0.132(3)','0.25','0.102(3)','0.131(1)','0.25','0.101(1)','0.128(1)','0.25','0.097(1)','0.124(1)','0.25','0.106(1)'],
 ['Cs 4c','0.502(3)','0.25','0.824(3)','0.510(1)','0.25','0.816(1)','0.510(1)','0.25','0.826(1)','0.496(1)','0.25','0.831(1)'],
 ['Cu 4c','0.221(8)','0.25','0.410(7)','0.234(4)','0.25','0.410(3)','0.243(3)','0.25','0.421(3)','0.224(4)','0.25','0.411(3)'],
 ['Cl1 4c','0.332(1)','0.25','0.575(1)','0.317(4)','0.25','0.589(4)','-','-','-','-','-','-'],
 ['Cl2 4c','-0.008(1)','0.25','0.381(1)','-','-','-','-','-','-','-','-','-'],
 ['Cl3 8d','0.298(1)','-0.032(1)','0.357(1)','0.288(6)','0.006(6)','0.357(3)','0.291(3)','-0.001(4)','0.352(3)','-','-','-'],
 ['Br1 4c','-','-','-','-','-','-','0.345(2)','0.25','0.580(2)','0.343(2)','0.25','0.585(2)'],
 ['Br2 4c','-','-','-','-0.008(2)','0.25','0.384(2)','-0.011(2)','0.25','0.374(1)','-0.006(2)','0.25','0.377(2)'],
 ['Br3 8d','-','-','-','-','-','-','-','-','-','0.298(1)','-0.013(3)','0.357(1)']];
var t1Fit=[['χ²red','3.20','3.12','2.95','2.91'],['wRp','0.095','0.098','0.087','0.085'],['Rp','0.072','0.069','0.062','0.065']];
(function(){
  var g=document.getElementById('table1');
  var gx=[2862,2905,3088,3266,3449,3632];
  var ax=[2862,2905,2967,3030,3088,3150,3208,3266,3329,3391,3449,3511,3574,3632];
  function txt(s,x,y,anc){var t=mk('text',g);at(t,{x:x,y:y,'text-anchor':anc||'middle'});t.textContent=s;
    }
  function hl(y,x1,x2,w){var l=mk('line',g);at(l,{x1:x1||2862,x2:x2||3632,y1:y,y2:y,stroke:'#222','stroke-width':w||1});
    }
  function vl(x,y1,y2){var l=mk('line',g);at(l,{x1:x,x2:x,y1:y1,y2:y2,stroke:'#222','stroke-width':1});
    }
  hl(111,0,0,1.2);hl(114,0,0,1.2);
  var gy=[118,130.5,144,157,171];
  gy.forEach(function(y){hl(y);});
  gx.forEach(function(x){vl(x,118,171);});
  var gc=[124,137,150.5,164];
  t1Groups.forEach(function(row,r){row.forEach(function(s,c){
    if(c===0)txt(s,2864,gc[r]+4,'start');else txt(s,(gx[c]+gx[c+1])/2,gc[r]+4);});});
  [174.5,187,211.6,224.6,261.4,299].forEach(function(y){hl(y);});
  ax.forEach(function(x){vl(x,174.5,299);});
  var ac=[181,193,205,218,231,243,255,267,279,292];
  t1Atoms.forEach(function(row,r){row.forEach(function(s,c){
    if(c===0)txt(s,2864,ac[r]+4,'start');else txt(s,(ax[c]+ax[c+1])/2,ac[r]+4);});});
  hl(301.6);hl(340);
  gx.forEach(function(x){vl(x,301.6,340);});
  var fc=[308,320,332];
  t1Fit.forEach(function(row,r){row.forEach(function(s,c){
    if(c===0)txt(s,2864,fc[r]+4,'start');else txt(s,(gx[c]+gx[c+1])/2,fc[r]+4);});});
  hl(343,0,0,1.2);hl(346,0,0,1.2);
})();

/* ================= TABLE II ================= */
var t2Neutron=[['Cs 4c','0.13132(16)','0.25','0.10183(13)'],['Cs 4c','0.49383(15)','0.25','0.82403(11)'],['Cu 4c','0.23164(9)','0.25','0.41767(7)'],
 ['Cl1 4c','0.34222(9)','0.25','0.57575(8)'],['Br2 4c','0.00292(10)','0.25','0.38095(8)'],['Cl3 8d','0.29338(7)','0.01202(7)','0.35627(6)']];
var t2Pxrd=[['Cs 4c','0.132(1)','0.25','0.098(1)'],['Cs 4c','0.510(1)','0.25','0.826(1)'],['Cu 4c','0.221(3)','0.25','0.425(3)'],
 ['Cl1 4c','0.337(4)','0.25','0.562(4)'],['Br2 4c','-0.005(2)','0.25','0.377(1)'],['Cl3 8d','0.291(3)','0.003(5)','0.367(3)']];
var t2Gof=['1.29','3.54'];
(function(){
  var g=document.getElementById('table2');
  var cx=[3790,3837,3947,4050,4160];
  function txt(s,x,y,anc){var t=mk('text',g);at(t,{x:x,y:y,'text-anchor':anc||'middle'});t.textContent=s;
    }
  function hl(y,w){var l=mk('line',g);at(l,{x1:3790,x2:4160,y1:y,y2:y,stroke:'#222','stroke-width':w||1});
    }
  function vl(x,y1,y2){var l=mk('line',g);at(l,{x1:x,x2:x,y1:y1,y2:y2,stroke:'#222','stroke-width':1});
    }
  hl(126.3,1.2);hl(129.3,1.2);
  function block(top,title,rows,gof,ys){
    var y0=top,yA=top+16,yB=top+32.5;
    hl(y0);hl(yA);hl(yB);
    [cx[0],cx[1],cx[4]].forEach(function(x){vl(x,y0,yA);});
    cx.forEach(function(x){vl(x,yA,ys[3]);});
    txt(title,(cx[1]+cx[4])/2,y0+12);
    txt('Atom',3793,yA+12,'start');txt('x',(cx[1]+cx[2])/2,yA+12);txt('y',(cx[2]+cx[3])/2,yA+12);txt('z',(cx[3]+cx[4])/2,yA+12);
    hl(ys[1]);hl(ys[2]);hl(ys[3]);hl(ys[4]);
    vl(cx[0],ys[3],ys[4]);vl(cx[1],ys[3],ys[4]);vl(cx[4],ys[3],ys[4]);
    var rowc=[yB+8.5,yB+24,ys[1]+8.5,ys[2]+8,ys[2]+24,ys[2]+40];
    rows.forEach(function(r,i){txt(r[0],3793,rowc[i]+5,'start');
      for(var c=1;c<4;c++)txt(r[c],(cx[c]+cx[c+1])/2,rowc[i]+5);});
    txt('GOF',3793,ys[3]+13,'start');txt(gof,(cx[1]+cx[4])/2,ys[3]+13);
  }
  block(134,'Neutron data',t2Neutron,t2Gof[0],[0,198,214,263,280]);
  block(284,'PXRD data',t2Pxrd,t2Gof[1],[0,348,364,413,430.5]);
  hl(434,1.2);hl(437.3,1.2);
})();
</script>
</body></html>
